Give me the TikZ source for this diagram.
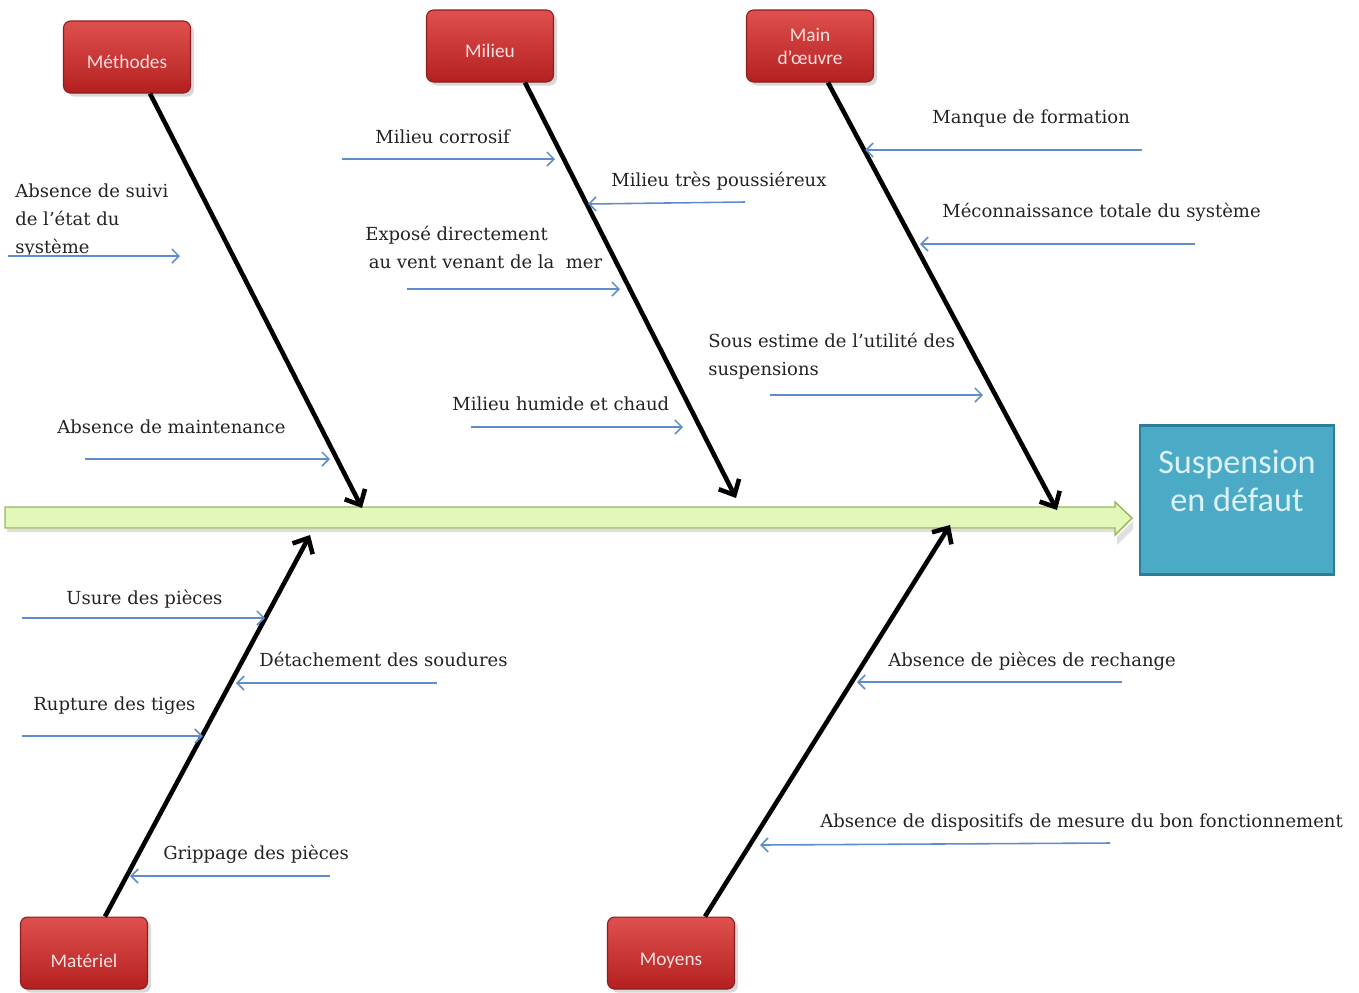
\documentclass[tikz,border=0pt]{standalone}
\usepackage{fontspec}
\setmainfont{DejaVu Serif}
\newfontfamily\boxfont{Carlito}
\usetikzlibrary{arrows.meta,shadows}
\definecolor{rtop}{RGB}{222,80,78}
\definecolor{rbot}{RGB}{180,32,32}
\definecolor{rdraw}{RGB}{140,30,30}
\definecolor{rtext}{RGB}{255,225,225}
\definecolor{eff}{RGB}{75,170,198}
\definecolor{effd}{RGB}{45,125,150}
\definecolor{efftext}{RGB}{220,242,250}
\definecolor{grn}{RGB}{225,248,185}
\definecolor{grnd}{RGB}{150,180,90}
\definecolor{blu}{RGB}{95,140,205}
\definecolor{txt}{RGB}{35,35,35}
\newcommand{\lowertxt}[2]{\raisebox{-#1}[\height][\depth]{#2}}
\begin{document}
\begin{tikzpicture}[x=0.02cm,y=-0.02cm,
  cause/.style={rectangle, rounded corners=4pt, minimum width=2.54cm, minimum height=1.44cm,
    top color=rtop, bottom color=rbot, draw=rdraw, line width=0.6pt, text=rtext,
    font=\boxfont\fontsize{11}{13}\selectfont, align=center,
    drop shadow={opacity=0.3, shadow xshift=2pt, shadow yshift=-2pt}},
  effect/.style={rectangle, minimum width=3.88cm, minimum height=2.98cm, fill=eff, draw=effd,
    line width=1.2pt, text=efftext, font=\boxfont\fontsize{19.5}{22}\selectfont, align=center},
  lbl/.style={font=\fontsize{10.25}{15.9}\selectfont, text=txt, inner sep=0pt, anchor=base west, align=left},
  sub/.style={draw=blu, line width=0.9pt, -{Straight Barb[length=4pt,width=8pt]}},
  bone/.style={line width=2.6pt, black, -{Straight Barb[length=7pt,width=13pt]}}
]
\useasboundingbox (0,0) rectangle (1359,992);

% spine
\fill[black!25, opacity=0.5] (7,529) -- (1117,529) -- (1117,537) -- (1133,521) -- (1133,529) -- (1117,545) -- (1117,532) -- (7,532) -- cycle;
\draw[fill=grn, draw=grnd, line width=0.8pt] (5,507) -- (1115,507) -- (1115,502) -- (1132,518) -- (1115,535) -- (1115,528) -- (5,528) -- cycle;

% effect
\node[effect] (eff) at (1237,500) {Suspension\\en défaut\\\mbox{}};

% causes
\node[cause] (meth) at (127,57) {\lowertxt{3pt}{Méthodes}};
\node[cause] (mil) at (490,46) {\lowertxt{3pt}{Milieu}};
\node[cause] (main) at (810,46) {Main\\d’œuvre};
\node[cause] (mat) at (84,953) {\lowertxt{4.5pt}{Matériel}};
\node[cause] (moy) at (671,953) {\lowertxt{4.5pt}{Moyens}};

% bone tips
\coordinate (tmeth) at (362,508);
\coordinate (tmil) at (736,498);
\coordinate (tmain) at (1057,510);
\coordinate (tmat) at (310,535);
\coordinate (tmoy) at (950,525);

\draw[bone] ([xshift=0.46cm]meth.south) -- (tmeth);
\draw[bone] ([xshift=0.7cm]mil.south) -- (tmil);
\draw[bone] ([xshift=0.36cm]main.south) -- (tmain);
\draw[bone] ([xshift=0.42cm]mat.north) -- (tmat);
\draw[bone] ([xshift=0.68cm]moy.north) -- (tmoy);

% labels (base = baseline of last line)
\node[lbl] (l1) at (15,253) {Absence de suivi\\de l’état du\\système};
\node[lbl] (l2) at (57,433) {Absence de maintenance};
\node[lbl] (l3) at (375,143) {Milieu corrosif};
\node[lbl] (l4) at (611,186) {Milieu très poussiéreux};
\node[lbl] (l5) at (365,268) {Exposé directement\\\hspace*{2pt}au vent venant de la~ mer};
\node[lbl] (l6) at (452,410) {Milieu humide et chaud};
\node[lbl] (l7) at (932,123) {Manque de formation};
\node[lbl] (l8) at (942,217) {Méconnaissance totale du système};
\node[lbl] (l9) at (708,375) {Sous estime de l’utilité des\\suspensions};
\node[lbl] (l10) at (66,604) {Usure des pièces};
\node[lbl] (l11) at (259,666) {Détachement des soudures};
\node[lbl] (l12) at (33,710) {Rupture des tiges};
\node[lbl] (l13) at (163,859) {Grippage des pièces};
\node[lbl] (l14) at (888,666) {Absence de pièces de rechange};
\node[lbl] (l15) at (820,827) {Absence de dispositifs de mesure du bon fonctionnement};

% sub-cause arrows
\coordinate (s1a) at (8,256);   \coordinate (s1b) at (180,256);
\coordinate (s2a) at (85,459);  \coordinate (s2b) at (330,459);
\coordinate (s3a) at (342,159); \coordinate (s3b) at (555,159);
\coordinate (s4a) at (745,202); \coordinate (s4b) at (588,204);
\coordinate (s5a) at (407,289); \coordinate (s5b) at (620,289);
\coordinate (s6a) at (471,427); \coordinate (s6b) at (683,427);
\coordinate (s7a) at (1142,150); \coordinate (s7b) at (865,150);
\coordinate (s8a) at (1195,244); \coordinate (s8b) at (920,244);
\coordinate (s9a) at (770,395); \coordinate (s9b) at (983,395);
\coordinate (s10a) at (22,618); \coordinate (s10b) at (265,618);
\coordinate (s11a) at (437,683); \coordinate (s11b) at (236,683);
\coordinate (s12a) at (22,736); \coordinate (s12b) at (203,736);
\coordinate (s13a) at (330,876); \coordinate (s13b) at (130,876);
\coordinate (s14a) at (1122,682); \coordinate (s14b) at (857,682);
\coordinate (s15a) at (1110,843); \coordinate (s15b) at (760,845);
\foreach \i in {1,...,15} { \draw[sub] (s\i a) -- (s\i b); }
\end{tikzpicture}
\end{document}
